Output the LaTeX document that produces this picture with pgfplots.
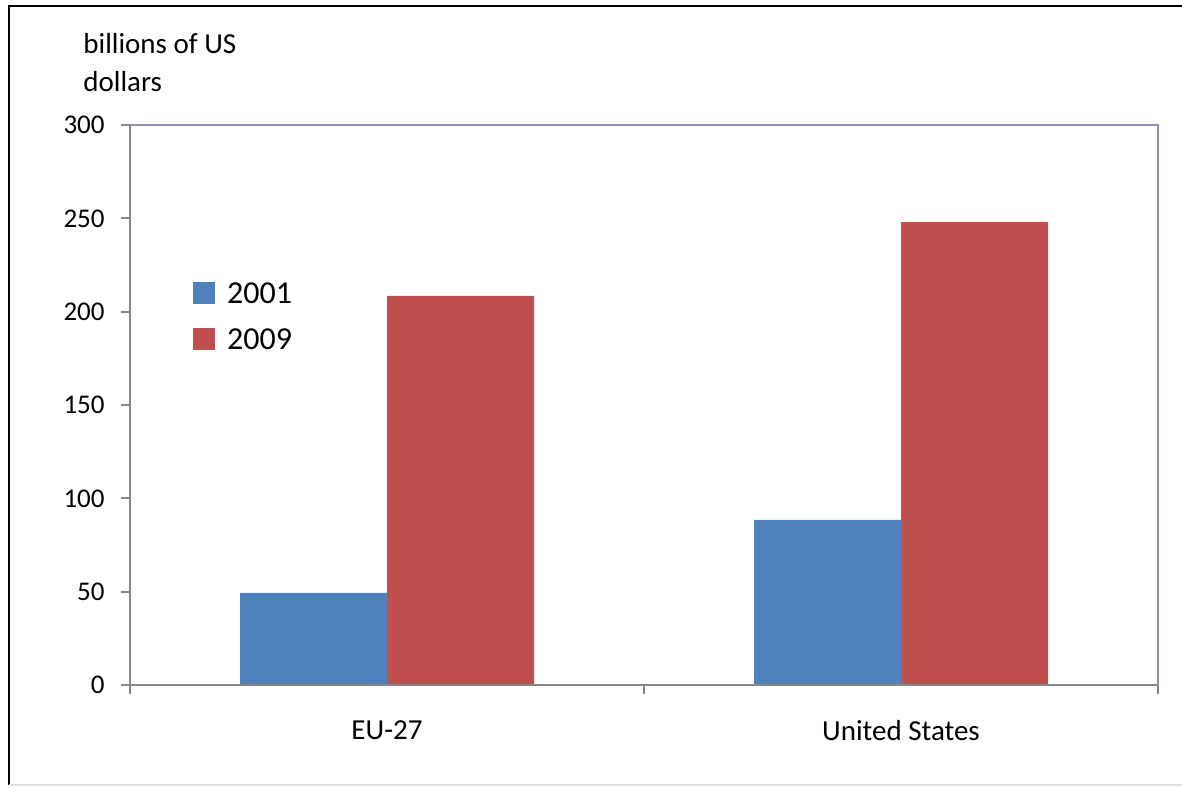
\documentclass[border=0pt]{standalone}
\usepackage{fontspec}
\setmainfont{Carlito}
\usepackage{pgfplots}
\pgfplotsset{compat=1.18}
\definecolor{barblue}{HTML}{4F81BD}
\definecolor{barred}{HTML}{C0504D}
\definecolor{axgray}{HTML}{868686}
\definecolor{axblue}{HTML}{8E8EB8}

\begin{document}
\begin{tikzpicture}[font=\fontsize{13.5}{19}\selectfont]
\begin{axis}[
    name=ax,
    scale only axis,
    width=514pt, height=280pt,
    ybar=0pt, bar width=73.5pt,
    xmin=-0.5, xmax=1.5, ymin=0, ymax=300,
    xtick={-0.5,0.5,1.5},
    x tick label as interval,
    xticklabels={EU-27,United States},
    ytick={0,50,...,300},
    tick align=outside,
    tick pos=left,
    major tick length=4.5pt,
    tick style={draw=axgray, line width=1pt},
    axis line style={draw=none},
    clip=false,
    /pgf/number format/assume math mode=true,
    yticklabel style={inner sep=0pt, xshift=-8pt},
    xticklabel style={inner sep=0pt, yshift=-13pt, font=\fontsize{14.5}{17}\selectfont},
    legend style={at={(0.061,0.72)}, anchor=north west, draw=none, fill=none,
        inner sep=0pt, row sep=12pt, font=\fontsize{16}{19}\selectfont,
        nodes={inner sep=0pt, text height=10pt, text depth=0pt},
        /tikz/every odd column/.append style={column sep=6pt}},
    legend cell align=left,
    legend image code/.code={\fill[#1, draw=none] (0pt,-5.5pt) rectangle (11pt,5.5pt);},
]
\addplot[fill=barblue, draw=none] coordinates {(0,49.3) (1,88.4)};
\addplot[fill=barred, draw=none] coordinates {(0,208.4) (1,248)};
\legend{2001,2009}
\draw[axgray, line width=1pt] (rel axis cs:0,1) -- (rel axis cs:0,0) -- (rel axis cs:1,0);
\draw[axblue, line width=1pt] (rel axis cs:0,1) -- (rel axis cs:1,1) -- (rel axis cs:1,0);
\end{axis}
\node[anchor=north west, align=left, inner sep=0pt, font=\fontsize{14.5}{19}\selectfont] at ([shift={(-23.5pt,326pt)}]ax.south west) {billions of US\\dollars};
\draw[black, line width=1pt] ([shift={(-60.5pt,-50pt)}]ax.south west) -- ([shift={(-60.5pt,339.5pt)}]ax.south west) -- ([shift={(526pt,339.5pt)}]ax.south west);
\draw[black!12, line width=1pt] ([shift={(-60.5pt,-50pt)}]ax.south west) -- ([shift={(526pt,-50pt)}]ax.south west);
\pgfresetboundingbox
\path ([shift={(-65pt,-51pt)}]ax.south west) rectangle ([shift={(526pt,342.5pt)}]ax.south west);
\end{tikzpicture}
\end{document}
